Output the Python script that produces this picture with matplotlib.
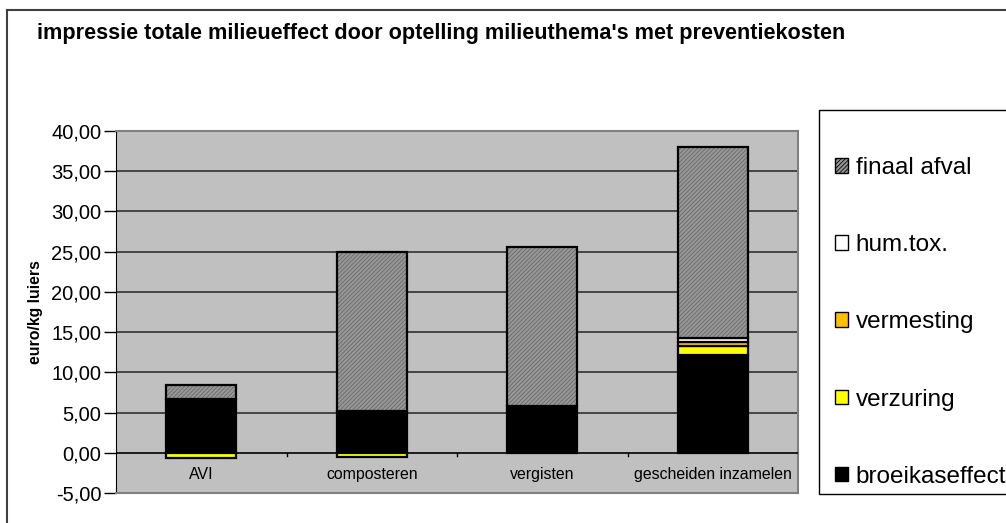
import matplotlib.pyplot as plt
from matplotlib.patches import Patch, Rectangle
from matplotlib.lines import Line2D

plt.rcParams['font.family'] = ['Liberation Sans', 'DejaVu Sans']
plt.rcParams['hatch.linewidth'] = 0.6
plt.rcParams['hatch.color'] = '#6A6A6A'

categories = ['AVI', 'composteren', 'vergisten', 'gescheiden inzamelen']
broeikaseffect = [6.63, 5.23, 5.80, 12.19]
verzuring = [-0.60, -0.55, 0.00, 1.10]
vermesting = [0.00, 0.00, 0.00, 0.50]
hum_tox = [0.00, 0.00, 0.00, 0.50]
finaal_afval = [1.85, 19.70, 19.80, 23.70]

series = [
    ('broeikaseffect', broeikaseffect, '#000000', None),
    ('verzuring', verzuring, '#FFFF00', None),
    ('vermesting', vermesting, '#FFC000', None),
    ('hum.tox.', hum_tox, '#FFFFFF', None),
    ('finaal afval', finaal_afval, '#979797', '////////'),
]

W, H = 1006, 523
fig = plt.figure(figsize=(W / 100, H / 100), dpi=100)
ax = fig.add_axes([116 / W, 1 - 493 / H, (798 - 116) / W, (493 - 131) / H])
ax.set_facecolor('#C0C0C0')

x = list(range(len(categories)))
width = 0.41
pos_base = [0.0] * len(x)
neg_base = [0.0] * len(x)
for name, vals, color, hatch in series:
    bottoms = [pos_base[i] if v >= 0 else neg_base[i] for i, v in enumerate(vals)]
    if hatch:
        ax.bar(x, vals, width, bottom=bottoms, color=color, hatch=hatch,
               edgecolor='#6A6A6A', linewidth=0, zorder=3)
        ax.bar(x, vals, width, bottom=bottoms, facecolor='none',
               edgecolor='black', linewidth=1.6, zorder=4)
    else:
        ax.bar(x, vals, width, bottom=bottoms, color=color,
               edgecolor='black', linewidth=1.6, zorder=3)
    for i, v in enumerate(vals):
        if v >= 0:
            pos_base[i] += v
        else:
            neg_base[i] += v

ax.set_xlim(-0.5, len(categories) - 0.5)
ax.set_ylim(-5, 40)
ax.set_yticks(range(-5, 41, 5))
ax.set_yticklabels([f'{v:.2f}'.replace('.', ',') for v in range(-5, 41, 5)], fontsize=14.5)
ax.tick_params(axis='y', direction='out', length=9, width=1, color='black', pad=1.5)
ax.set_xticks([])
for v in range(5, 41, 5):
    ax.axhline(v, color='#303030', linewidth=1.2, zorder=1)
ax.axhline(0, color='black', linewidth=1.2, zorder=5)
for b in [0.5, 1.5, 2.5]:
    ax.plot([b, b], [0, -0.45], color='black', linewidth=1, zorder=5)
for i, c in enumerate(categories):
    ax.text(i, -2.65, c, ha='center', va='center', fontsize=11.4)

for side in ['top', 'right', 'bottom']:
    ax.spines[side].set_color('#808080')
    ax.spines[side].set_linewidth(1.5)
ax.spines['left'].set_color('black')

ax.set_ylabel('euro/kg luiers', fontsize=11.4, fontweight='bold', labelpad=6)

fig.text(37 / W, 1 - 33 / H, "impressie totale milieueffect door optelling milieuthema's met preventiekosten",
         fontsize=15.6, fontweight='bold', va='center', ha='left')

# outer chart frame
fig.add_artist(Line2D([7 / W, 7 / W], [0, 1 - 10 / H], color='#404040', linewidth=1.5))
fig.add_artist(Line2D([7 / W, 1], [1 - 10 / H, 1 - 10 / H], color='#404040', linewidth=1.5))

# legend box
fig.add_artist(Rectangle((819 / W, 1 - 494 / H), 200 / W, (494 - 110) / H,
                         transform=fig.transFigure, facecolor='white',
                         edgecolor='black', linewidth=1))
handles = []
for name, vals, color, hatch in reversed(series):
    handles.append(Patch(facecolor=color, edgecolor='black', hatch=hatch, linewidth=1, label=name))
leg = fig.legend(handles=handles, loc='upper left', bbox_to_anchor=(819 / W, 1 - 141 / H),
                 fontsize=17.5, frameon=False, borderaxespad=0,
                 handlelength=0.55, handleheight=0.55, handletextpad=0.3,
                 labelspacing=2.27, borderpad=0.66)

fig.savefig('out.png', dpi=100, facecolor='white')
